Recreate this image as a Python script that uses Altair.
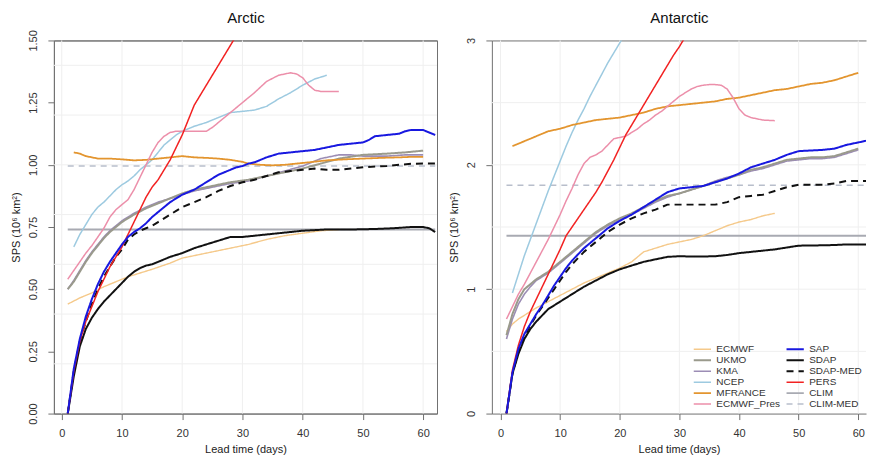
import altair as alt
import pandas as pd

# ---------------- Arctic series (lead day, SPS 10^6 km^2) ----------------
a_ecmwf_d = [1, 3, 5, 7, 9, 11, 13, 15, 18, 20, 23, 25, 28, 31, 34, 37, 40, 43, 46]
a_ecmwf_v = [0.44, 0.465, 0.485, 0.51, 0.53, 0.55, 0.565, 0.58, 0.605, 0.625, 0.64, 0.65, 0.665, 0.68, 0.70, 0.715, 0.725, 0.735, 0.74]

a_ukmo_d = [1, 2, 3, 4, 5, 6, 7, 8, 9, 10, 12, 14, 16, 18, 20, 22, 25, 28, 31, 34, 37, 40, 43, 46, 50, 54, 57, 60]
a_ukmo_v = [0.50, 0.53, 0.57, 0.61, 0.645, 0.675, 0.705, 0.73, 0.75, 0.77, 0.80, 0.825, 0.845, 0.865, 0.885, 0.90, 0.915, 0.93, 0.94, 0.955, 0.97, 0.985, 1.005, 1.025, 1.04, 1.045, 1.05, 1.057]

a_kma_d = [1, 2, 3, 4, 5, 6, 7, 8, 9, 10, 12, 14, 16, 18, 20, 22, 25, 28, 31, 34, 37, 40, 43, 46, 48, 50, 54, 57, 60]
a_kma_v = [0.50, 0.535, 0.575, 0.615, 0.65, 0.68, 0.71, 0.735, 0.755, 0.775, 0.805, 0.83, 0.85, 0.865, 0.88, 0.895, 0.91, 0.925, 0.935, 0.955, 0.975, 0.995, 1.025, 1.04, 1.04, 1.035, 1.035, 1.04, 1.04]

a_ncep_d = [2, 3, 4, 5, 6, 7, 8, 9, 10, 11, 12, 13, 14, 15, 16, 17, 18, 19, 20, 22, 24, 26, 28, 30, 32, 34, 36, 38, 40, 42, 44]
a_ncep_v = [0.67, 0.72, 0.76, 0.80, 0.83, 0.85, 0.875, 0.90, 0.92, 0.935, 0.955, 0.98, 1.0, 1.02, 1.05, 1.08, 1.10, 1.12, 1.135, 1.155, 1.17, 1.19, 1.21, 1.215, 1.22, 1.235, 1.265, 1.29, 1.32, 1.345, 1.36]

a_mfr_d = [2, 3, 4, 5, 6, 8, 10, 12, 14, 16, 18, 20, 22, 24, 26, 28, 30, 31, 33, 35, 37, 39, 41, 44, 47, 50, 53, 56, 58, 60]
a_mfr_v = [1.05, 1.045, 1.035, 1.03, 1.025, 1.025, 1.022, 1.018, 1.02, 1.025, 1.03, 1.035, 1.03, 1.028, 1.025, 1.02, 1.012, 1.005, 1.0, 0.998, 1.0, 1.005, 1.01, 1.018, 1.022, 1.025, 1.028, 1.03, 1.032, 1.032]

a_pres_d = [1, 2, 3, 4, 5, 6, 7, 8, 9, 10, 11, 12, 13, 14, 15, 16, 17, 18, 19, 20, 22, 24, 25, 26, 28, 30, 32, 34, 36, 38, 39, 40, 41, 42, 43, 46]
a_pres_v = [0.54, 0.575, 0.61, 0.645, 0.675, 0.71, 0.745, 0.79, 0.82, 0.84, 0.86, 0.90, 0.95, 1.0, 1.05, 1.09, 1.115, 1.13, 1.135, 1.135, 1.135, 1.135, 1.15, 1.17, 1.21, 1.25, 1.29, 1.335, 1.36, 1.37, 1.365, 1.35, 1.32, 1.30, 1.295, 1.295]

a_sap_d = [1, 2, 3, 4, 5, 6, 7, 8, 9, 10, 11, 12, 13, 14, 15, 16, 17, 18, 19, 20, 21, 22, 23, 24, 25, 26, 27, 28, 29, 30, 31, 32, 34, 36, 38, 40, 42, 44, 46, 48, 50, 51, 52, 54, 56, 57, 58, 60, 61, 62]
a_sap_v = [0.0, 0.18, 0.30, 0.39, 0.46, 0.52, 0.57, 0.61, 0.645, 0.68, 0.71, 0.73, 0.745, 0.765, 0.79, 0.81, 0.83, 0.85, 0.865, 0.88, 0.89, 0.90, 0.915, 0.93, 0.945, 0.96, 0.97, 0.98, 0.99, 0.995, 1.005, 1.01, 1.03, 1.045, 1.05, 1.055, 1.06, 1.07, 1.08, 1.085, 1.09, 1.10, 1.115, 1.12, 1.125, 1.135, 1.14, 1.14, 1.13, 1.12]

a_sdap_d = [1, 2, 3, 4, 5, 6, 7, 8, 9, 10, 11, 12, 13, 14, 15, 16, 18, 20, 22, 24, 26, 28, 30, 32, 34, 36, 38, 40, 44, 48, 52, 55, 58, 60, 61, 62]
a_sdap_v = [0.0, 0.15, 0.27, 0.34, 0.385, 0.42, 0.45, 0.475, 0.50, 0.525, 0.55, 0.57, 0.585, 0.595, 0.60, 0.61, 0.63, 0.645, 0.665, 0.68, 0.695, 0.71, 0.71, 0.715, 0.72, 0.725, 0.73, 0.735, 0.74, 0.74, 0.742, 0.745, 0.75, 0.75, 0.745, 0.73]

a_sdapmed_d = [1, 2, 3, 4, 5, 6, 7, 8, 9, 10, 11, 12, 13, 14, 15, 16, 17, 18, 19, 20, 22, 24, 26, 28, 30, 32, 34, 36, 38, 40, 42, 44, 46, 48, 50, 52, 54, 56, 58, 60, 62]
a_sdapmed_v = [0.0, 0.17, 0.29, 0.37, 0.44, 0.50, 0.55, 0.59, 0.63, 0.66, 0.70, 0.72, 0.735, 0.745, 0.755, 0.77, 0.785, 0.80, 0.815, 0.83, 0.85, 0.87, 0.895, 0.915, 0.93, 0.94, 0.955, 0.97, 0.975, 0.98, 0.985, 0.98, 0.98, 0.985, 0.99, 0.993, 0.995, 1.0, 1.004, 1.005, 1.005]

a_pers_d = [1, 2, 3, 4, 5, 6, 7, 8, 9, 10, 11, 12, 13, 14, 15, 16, 17, 18, 20, 22, 24, 26, 28, 29, 30]
a_pers_v = [0.0, 0.17, 0.29, 0.37, 0.43, 0.49, 0.54, 0.59, 0.63, 0.67, 0.72, 0.77, 0.82, 0.87, 0.91, 0.94, 0.98, 1.02, 1.12, 1.24, 1.32, 1.40, 1.48, 1.52, 1.56]

a_clim_d = [1, 62]
a_clim_v = [0.74, 0.74]
a_climmed_d = [1, 62]
a_climmed_v = [0.995, 0.995]

# ---------------- Antarctic series ----------------
b_ecmwf_d = [1, 2, 3, 4, 5, 6, 8, 10, 12, 14, 16, 18, 20, 22, 24, 26, 28, 30, 32, 34, 36, 38, 40, 42, 44, 46]
b_ecmwf_v = [0.66, 0.72, 0.76, 0.79, 0.82, 0.85, 0.90, 0.95, 1.0, 1.05, 1.09, 1.13, 1.17, 1.22, 1.30, 1.33, 1.36, 1.38, 1.40, 1.43, 1.47, 1.51, 1.54, 1.56, 1.59, 1.61]

b_ukmo_d = [1, 2, 3, 4, 5, 6, 7, 8, 9, 10, 11, 12, 14, 16, 18, 20, 22, 24, 26, 28, 30, 32, 34, 36, 38, 40, 42, 44, 46, 48, 50, 52, 54, 56, 58, 60]
b_ukmo_v = [0.63, 0.80, 0.92, 1.00, 1.04, 1.08, 1.11, 1.14, 1.18, 1.22, 1.26, 1.30, 1.38, 1.46, 1.52, 1.57, 1.61, 1.66, 1.71, 1.75, 1.77, 1.80, 1.83, 1.86, 1.89, 1.92, 1.96, 1.98, 2.01, 2.04, 2.05, 2.06, 2.06, 2.07, 2.10, 2.13]

b_kma_d = [1, 2, 3, 4, 5, 6, 7, 8, 9, 10, 11, 12, 14, 16, 18, 20, 22, 24, 26, 28, 30, 32, 34, 36, 38, 40, 42, 44, 46, 48, 50, 52, 54, 56, 58, 60]
b_kma_v = [0.60, 0.76, 0.88, 0.96, 1.02, 1.07, 1.10, 1.13, 1.17, 1.21, 1.25, 1.29, 1.37, 1.45, 1.51, 1.56, 1.60, 1.65, 1.70, 1.74, 1.77, 1.80, 1.83, 1.87, 1.90, 1.92, 1.95, 1.97, 2.00, 2.03, 2.04, 2.05, 2.05, 2.06, 2.09, 2.12]

b_ncep_d = [2, 3, 4, 5, 6, 7, 8, 9, 10, 11, 12, 13, 14, 15, 16, 17, 18, 19, 20, 21]
b_ncep_v = [0.97, 1.12, 1.27, 1.40, 1.53, 1.66, 1.79, 1.91, 2.03, 2.15, 2.26, 2.36, 2.45, 2.55, 2.64, 2.73, 2.82, 2.90, 2.98, 3.06]

b_mfr_d = [2, 3, 4, 5, 6, 7, 8, 10, 12, 14, 16, 18, 20, 22, 24, 26, 28, 30, 32, 34, 36, 38, 40, 42, 44, 46, 48, 50, 52, 54, 56, 58, 60]
b_mfr_v = [2.15, 2.17, 2.19, 2.21, 2.23, 2.25, 2.27, 2.29, 2.32, 2.34, 2.36, 2.37, 2.38, 2.40, 2.42, 2.45, 2.47, 2.48, 2.49, 2.50, 2.51, 2.53, 2.54, 2.56, 2.58, 2.60, 2.61, 2.63, 2.65, 2.66, 2.68, 2.71, 2.74]

b_pres_d = [1, 2, 3, 4, 5, 6, 7, 8, 9, 10, 11, 12, 13, 14, 15, 16, 17, 18, 19, 20, 21, 22, 23, 24, 25, 26, 27, 28, 29, 30, 31, 32, 33, 34, 35, 36, 37, 38, 39, 40, 41, 42, 43, 44, 46]
b_pres_v = [0.76, 0.86, 0.96, 1.04, 1.13, 1.22, 1.31, 1.40, 1.50, 1.60, 1.71, 1.81, 1.92, 2.01, 2.06, 2.08, 2.11, 2.16, 2.21, 2.22, 2.23, 2.26, 2.29, 2.33, 2.36, 2.40, 2.43, 2.47, 2.51, 2.55, 2.58, 2.61, 2.63, 2.64, 2.645, 2.645, 2.64, 2.61, 2.54, 2.45, 2.40, 2.38, 2.37, 2.36, 2.355]

b_sap_d = [1, 2, 3, 4, 5, 6, 7, 8, 9, 10, 11, 12, 13, 14, 15, 16, 17, 18, 20, 22, 24, 26, 28, 30, 32, 34, 36, 38, 40, 42, 44, 46, 48, 50, 52, 54, 56, 58, 60, 62]
b_sap_v = [0.0, 0.33, 0.52, 0.64, 0.72, 0.80, 0.87, 0.95, 1.03, 1.10, 1.17, 1.23, 1.28, 1.33, 1.37, 1.41, 1.45, 1.49, 1.55, 1.60, 1.66, 1.72, 1.78, 1.81, 1.82, 1.83, 1.86, 1.89, 1.93, 1.98, 2.01, 2.04, 2.08, 2.11, 2.115, 2.12, 2.13, 2.16, 2.18, 2.20]

b_sdap_d = [1, 2, 3, 4, 5, 6, 7, 8, 9, 10, 12, 14, 16, 18, 20, 22, 24, 26, 28, 30, 33, 36, 38, 40, 42, 44, 46, 48, 50, 53, 56, 58, 62]
b_sdap_v = [0.0, 0.32, 0.48, 0.60, 0.68, 0.74, 0.79, 0.84, 0.87, 0.90, 0.96, 1.02, 1.07, 1.12, 1.16, 1.19, 1.22, 1.24, 1.26, 1.265, 1.262, 1.265, 1.275, 1.29, 1.30, 1.31, 1.32, 1.335, 1.35, 1.352, 1.355, 1.36, 1.36]

b_sdapmed_d = [1, 2, 3, 4, 5, 6, 7, 8, 9, 10, 11, 12, 13, 14, 16, 18, 20, 22, 24, 26, 28, 30, 32, 34, 36, 38, 40, 42, 44, 46, 48, 50, 52, 54, 56, 58, 60, 62]
b_sdapmed_v = [0.0, 0.32, 0.50, 0.62, 0.71, 0.79, 0.86, 0.93, 1.0, 1.07, 1.14, 1.20, 1.25, 1.30, 1.38, 1.46, 1.52, 1.57, 1.61, 1.64, 1.68, 1.68, 1.68, 1.68, 1.68, 1.70, 1.74, 1.75, 1.76, 1.79, 1.82, 1.84, 1.84, 1.84, 1.85, 1.87, 1.87, 1.87]

b_pers_d = [1, 2, 3, 4, 5, 6, 7, 8, 9, 10, 11, 12, 13, 14, 15, 16, 17, 18, 19, 20, 21, 22, 23, 24, 25, 26, 27, 28, 29, 30, 31]
b_pers_v = [0.0, 0.35, 0.55, 0.70, 0.82, 0.92, 1.02, 1.12, 1.22, 1.32, 1.43, 1.50, 1.57, 1.64, 1.71, 1.78, 1.86, 1.95, 2.04, 2.14, 2.24, 2.32, 2.40, 2.48, 2.56, 2.64, 2.72, 2.80, 2.88, 2.95, 3.03]

b_clim_d = [1, 62]
b_clim_v = [1.43, 1.43]
b_climmed_d = [1, 62]
b_climmed_v = [1.835, 1.835]

# ---------------- styling lists ----------------
MODELS = ["ECMWF", "UKMO", "KMA", "NCEP", "MFRANCE", "ECMWF_Pres",
          "SAP", "SDAP", "SDAP-MED", "PERS", "CLIM", "CLIM-MED"]
COLORS = ["#F5C98A", "#9A9A8C", "#9C8DB5", "#9DCAE0", "#E3952F", "#EC8FAA",
          "#1818E0", "#111111", "#111111", "#F22222", "#A8AAB2", "#B8BECB"]
DASHES = [[1, 0], [1, 0], [1, 0], [1, 0], [1, 0], [1, 0],
          [1, 0], [1, 0], [7, 5], [1, 0], [1, 0], [6, 5]]
WIDTHS = [1.4, 2.0, 1.6, 1.5, 1.8, 1.5, 2.0, 2.0, 2.0, 1.5, 2.0, 1.5]
DRAW_ORDER = ["CLIM", "CLIM-MED", "ECMWF", "KMA", "UKMO", "NCEP", "MFRANCE",
              "ECMWF_Pres", "SDAP-MED", "SDAP", "PERS", "SAP"]

X_TICKS = [0, 10, 20, 30, 40, 50, 60]
A_Y_TICKS = [0, 0.25, 0.5, 0.75, 1.0, 1.25, 1.5]
B_Y_TICKS = [0, 1, 2, 3]
A_Y_GRID = [0.2, 0.4, 0.6, 0.8, 1.0, 1.2, 1.4]
B_Y_GRID = [0.5, 1.0, 1.5, 2.0, 2.5]

FONT = "Liberation Sans"
AX = "#707070"
GRID = "#EFEFEF"

arctic = {
    "ECMWF": (a_ecmwf_d, a_ecmwf_v), "UKMO": (a_ukmo_d, a_ukmo_v), "KMA": (a_kma_d, a_kma_v),
    "NCEP": (a_ncep_d, a_ncep_v), "MFRANCE": (a_mfr_d, a_mfr_v), "ECMWF_Pres": (a_pres_d, a_pres_v),
    "SAP": (a_sap_d, a_sap_v), "SDAP": (a_sdap_d, a_sdap_v), "SDAP-MED": (a_sdapmed_d, a_sdapmed_v),
    "PERS": (a_pers_d, a_pers_v), "CLIM": (a_clim_d, a_clim_v), "CLIM-MED": (a_climmed_d, a_climmed_v),
}
antarctic = {
    "ECMWF": (b_ecmwf_d, b_ecmwf_v), "UKMO": (b_ukmo_d, b_ukmo_v), "KMA": (b_kma_d, b_kma_v),
    "NCEP": (b_ncep_d, b_ncep_v), "MFRANCE": (b_mfr_d, b_mfr_v), "ECMWF_Pres": (b_pres_d, b_pres_v),
    "SAP": (b_sap_d, b_sap_v), "SDAP": (b_sdap_d, b_sdap_v), "SDAP-MED": (b_sdapmed_d, b_sdapmed_v),
    "PERS": (b_pers_d, b_pers_v), "CLIM": (b_clim_d, b_clim_v), "CLIM-MED": (b_climmed_d, b_climmed_v),
}


def frame(series):
    rows = []
    for m in DRAW_ORDER:
        d, v = series[m]
        for a, b in zip(d, v):
            rows.append({"model": m, "day": a, "sps": b})
    return pd.DataFrame(rows)


def panel(series, title, xdom, ydom, yticks, yfmt, ygrid, width, legend, boxed):
    xs = alt.Scale(domain=xdom, nice=False, zero=False)
    ys = alt.Scale(domain=ydom, nice=False, zero=False)
    xaxis = alt.Axis(orient="bottom", values=X_TICKS, format="d", title="Lead time (days)",
                     grid=False, tickSize=6, labelPadding=8, titlePadding=5)
    yaxis = alt.Axis(values=yticks, format=yfmt, title="SPS (10⁶ km²)", grid=False,
                     labelAngle=270, labelAlign="center", labelBaseline="bottom",
                     tickSize=6, labelPadding=9, titlePadding=6)
    top_axis = alt.Axis(orient="top", values=X_TICKS, labels=False, ticks=False, grid=False,
                        domain=True, title=title, titleFontSize=15, titleColor="#111111",
                        titlePadding=15)
    gx = alt.Chart(pd.DataFrame({"g": X_TICKS})).mark_rule(color=GRID, strokeWidth=1).encode(
        x=alt.X("g:Q", scale=xs, axis=None))
    gy = alt.Chart(pd.DataFrame({"g": ygrid})).mark_rule(color=GRID, strokeWidth=1).encode(
        y=alt.Y("g:Q", scale=ys, axis=yaxis))
    if legend:
        leg = alt.Legend(title=None, orient="bottom-right", columns=2, symbolType="stroke",
                         symbolSize=300, clipHeight=11, labelFontSize=10, labelFont=FONT,
                         labelColor="#333333", rowPadding=0, columnPadding=5, offset=4,
                         padding=0, labelOffset=4, labelLimit=200)
    else:
        leg = None
    lines = alt.Chart(frame(series)).mark_line(clip=True, strokeJoin="round").encode(
        x=alt.X("day:Q", scale=xs, axis=xaxis),
        y=alt.Y("sps:Q", scale=ys, axis=yaxis),
        color=alt.Color("model:N", scale=alt.Scale(domain=MODELS, range=COLORS), legend=leg),
        strokeDash=alt.StrokeDash("model:N", scale=alt.Scale(domain=MODELS, range=DASHES), legend=leg),
        strokeWidth=alt.StrokeWidth("model:N", scale=alt.Scale(type="ordinal", domain=MODELS, range=WIDTHS), legend=leg),
    )
    top = alt.Chart(pd.DataFrame({"g": X_TICKS})).mark_rule(opacity=0).encode(
        x=alt.X("g:Q", scale=xs, axis=top_axis))
    props = dict(width=width, height=374)
    if not boxed:
        props["view"] = alt.ViewBackground(stroke="transparent")
    return alt.layer(gx, gy, lines, top).properties(**props)


left = panel(arctic, "Arctic", [-1.3, 62.3], [0, 1.5], A_Y_TICKS, ".2f", A_Y_GRID, 384, False, True)
right = panel(antarctic, "Antarctic", [-1.45, 61.3], [0, 3], B_Y_TICKS, "d", B_Y_GRID, 375, True, False)

chart = (
    alt.hconcat(left, right, spacing=10)
    .resolve_scale(x="independent", y="independent", color="independent",
                   strokeDash="independent", strokeWidth="independent")
    .properties(padding={"left": 2, "top": 1, "right": 0, "bottom": 0}, background="white")
    .configure_view(stroke=AX, strokeWidth=1)
    .configure_axis(domainColor=AX, tickColor=AX, domainWidth=1, tickWidth=1,
                    labelColor="#333333", titleColor="#222222", labelFont=FONT, titleFont=FONT,
                    labelFontSize=11, titleFontSize=11, titleFontWeight="normal")
)

chart.save("out.html", embed_options={"renderer": "svg", "actions": False})
